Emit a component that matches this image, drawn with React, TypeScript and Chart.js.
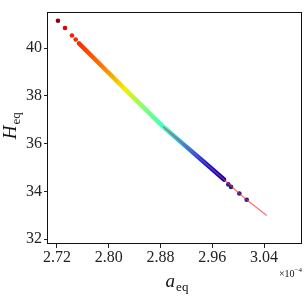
import { useEffect, useRef } from 'react';
import { Chart, registerables } from 'chart.js';

Chart.register(...registerables);

// Axis ticks (x in units of 1e-4)
const xTicks = [2.72, 2.8, 2.88, 2.96, 3.04];
const yTicks = [32, 34, 36, 38, 40];
const xRange = [2.7061, 3.0987];
const yRange = [31.794, 41.526];

// Dense colored band of samples (a_eq ×1e-4, H_eq)
const bandX = [2.754, 2.7896, 2.8251, 2.8545, 2.8843, 2.9148, 2.9472, 2.9782];
const bandY = [40.194, 39.237, 38.28, 37.493, 36.701, 35.988, 35.225, 34.495];
const bandColors = ['#ff2a00', '#ff7800', '#f0f000', '#80ff78', '#3cffc0', '#10b0ff', '#0028ff', '#0000c0'];

// Isolated points at the upper end
const headX = [2.7215, 2.7324, 2.7432, 2.7489];
const headY = [41.142, 40.837, 40.524, 40.359];
const headColors = ['#8b0000', '#e00000', '#ff1a00', '#ff2600'];

// Isolated points at the lower end
const tailX = [2.9848, 2.989, 3.0018, 3.0132];
const tailY = [34.289, 34.186, 33.909, 33.649];
const tailColor = '#1c1c8c';

// Thin red trace
const traceX = [2.8843, 2.9148, 2.9472, 2.9782, 3.0018, 3.0132, 3.0442];
const traceY = [36.701, 35.988, 35.225, 34.495, 33.909, 33.649, 32.99];
const traceColor = 'rgba(255,40,40,0.65)';

const SERIF = '"Liberation Serif", "DejaVu Serif", serif';

const zip = (xs: number[], ys: number[]) => xs.map((x, i) => ({ x, y: ys[i] }));

const decorPlugin = {
  id: 'decor',
  afterDraw(chart: any) {
    const { ctx, chartArea: a } = chart;
    ctx.save();
    // frame
    ctx.strokeStyle = '#111';
    ctx.lineWidth = 1;
    ctx.strokeRect(Math.round(a.left) - 0.5, Math.round(a.top) + 0.5, Math.round(a.right - a.left) + 0, Math.round(a.bottom - a.top) - 1);
    ctx.fillStyle = '#111';
    ctx.textBaseline = 'alphabetic';

    const drawSub = (main: string, sub: string, cx: number, baseY: number) => {
      ctx.font = `italic 19px ${SERIF}`;
      const w1 = ctx.measureText(main).width;
      ctx.font = `13px ${SERIF}`;
      const w2 = ctx.measureText(sub).width;
      const start = cx - (w1 + w2 + 1) / 2;
      ctx.font = `italic 19px ${SERIF}`;
      ctx.fillText(main, start, baseY);
      ctx.font = `13px ${SERIF}`;
      ctx.fillText(sub, start + w1 + 1, baseY + 4);
    };

    // x label
    drawSub('a', 'eq', (a.left + a.right) / 2 + 2, 287);

    // y label
    ctx.save();
    ctx.translate(16, (a.top + a.bottom) / 2 - 2);
    ctx.rotate(-Math.PI / 2);
    drawSub('H', 'eq', 0, 0);
    ctx.restore();

    // offset text ×10^-4
    ctx.font = `7px ${SERIF}`;
    const sup = '\u22124';
    const ws = ctx.measureText(sup).width;
    ctx.font = `10px ${SERIF}`;
    const base = '\u00d710';
    const wb = ctx.measureText(base).width;
    const right = a.right;
    ctx.fillText(base, right - ws - wb, 277);
    ctx.font = `7px ${SERIF}`;
    ctx.fillText(sup, right - ws, 272);
    ctx.restore();
  },
};

export default function App() {
  const ref = useRef<HTMLCanvasElement | null>(null);

  useEffect(() => {
    document.body.style.margin = '0';
    const canvas = ref.current!;
    const bandGradient = (c: any) => {
      const chart = c.chart;
      if (!chart.chartArea) return bandColors[0];
      const xs = chart.scales.x;
      const ys = chart.scales.y;
      const x0 = xs.getPixelForValue(bandX[0]);
      const y0 = ys.getPixelForValue(bandY[0]);
      const x1 = xs.getPixelForValue(bandX[bandX.length - 1]);
      const y1 = ys.getPixelForValue(bandY[bandY.length - 1]);
      const len2 = (x1 - x0) ** 2 + (y1 - y0) ** 2;
      const g = chart.ctx.createLinearGradient(x0, y0, x1, y1);
      bandX.forEach((bx: number, i: number) => {
        const px = xs.getPixelForValue(bx);
        const py = ys.getPixelForValue(bandY[i]);
        let t = ((px - x0) * (x1 - x0) + (py - y0) * (y1 - y0)) / len2;
        t = Math.max(0, Math.min(1, t));
        g.addColorStop(t, bandColors[i]);
      });
      return g;
    };

    const chart = new Chart(canvas, {
      type: 'scatter',
      data: {
        datasets: [
          {
            data: zip(traceX, traceY),
            showLine: true,
            borderColor: traceColor,
            borderWidth: 1.3,
            pointRadius: 0,
            order: 0,
          },
          {
            data: zip(tailX, tailY),
            pointRadius: 2.3,
            pointBorderWidth: 0,
            pointBackgroundColor: tailColor,
            order: 1,
          },
          {
            data: zip(headX, headY),
            pointRadius: 2.3,
            pointBorderWidth: 0,
            pointBackgroundColor: headColors,
            order: 1,
          },
          {
            data: zip(bandX, bandY),
            showLine: true,
            borderColor: bandGradient,
            borderWidth: 4.5,
            borderCapStyle: 'round',
            borderJoinStyle: 'round',
            pointRadius: 0,
            order: 2,
          },
        ] as any,
      },
      options: {
        animation: false,
        responsive: false,
        devicePixelRatio: 1,
        events: [],
        layout: { padding: { top: 8, right: 5, left: 0, bottom: 0 } },
        plugins: { legend: { display: false }, tooltip: { enabled: false } },
        scales: {
          x: {
            type: 'linear',
            min: xRange[0],
            max: xRange[1],
            afterBuildTicks: (s: any) => {
              s.ticks = xTicks.map((v) => ({ value: v }));
            },
            afterFit: (s: any) => {
              s.height = 53;
            },
            ticks: {
              callback: (v: any) => Number(v).toFixed(2),
              font: { family: SERIF, size: 16 },
              color: '#222',
              padding: 0,
              maxRotation: 0,
              autoSkip: false,
            },
            grid: { drawOnChartArea: false, drawTicks: true, tickLength: 4, color: '#222', lineWidth: 1 },
            border: { display: false },
          },
          y: {
            type: 'linear',
            min: yRange[0],
            max: yRange[1],
            afterBuildTicks: (s: any) => {
              s.ticks = yTicks.map((v) => ({ value: v }));
            },
            afterFit: (s: any) => {
              s.width = 48;
            },
            ticks: {
              callback: (v: any) => String(v),
              font: { family: SERIF, size: 16 },
              color: '#222',
              padding: 2,
              autoSkip: false,
            },
            grid: { drawOnChartArea: false, drawTicks: true, tickLength: 4, color: '#222', lineWidth: 1 },
            border: { display: false },
          },
        },
      },
      plugins: [decorPlugin],
    });
    return () => chart.destroy();
  }, []);

  return <canvas ref={ref} width={307} height={297} style={{ display: 'block' }} />;
}
